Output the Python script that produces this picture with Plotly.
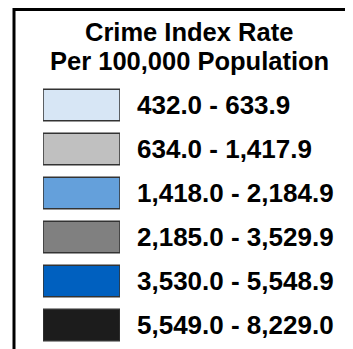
import plotly.graph_objects as go

RANGES = ['432.0 - 633.9', '634.0 - 1,417.9', '1,418.0 - 2,184.9',
          '2,185.0 - 3,529.9', '3,530.0 - 5,548.9', '5,549.0 - 8,229.0']
COLORS = ['#d7e6f5', '#c0c0c0', '#64a0db', '#808080', '#0060bf', '#1c1c1c']
SWATCH = [1, 1, 1, 1, 1, 1]
TITLE_LINES = ['Crime Index Rate', 'Per 100,000 Population']

# the page body adds an 8px margin, so the figure is 8px smaller
W, H = 345, 341
L, R, T, B = 35, 112, 75, 339   # plot area in figure pixels
FONT = 'Arial, Liberation Sans, sans-serif'


def px(x):
    return (x - L) / (R - L)


def py(y):
    return (B - y) / (B - T)


fig = go.Figure()
fig.add_trace(go.Bar(
    x=SWATCH, y=RANGES, orientation='h', width=0.72,
    marker=dict(color=COLORS, line=dict(color='#333333', width=1.5)),
    hoverinfo='skip', showlegend=False))

for i, line in enumerate(TITLE_LINES):
    fig.add_annotation(text='<b>' + line + '</b>', xref='paper', yref='paper',
                       x=px(181), y=py(24.5 + i * 29), xanchor='center', yanchor='middle',
                       showarrow=False, font=dict(family=FONT, size=25.5, color='black'))

fig.update_layout(
    width=W, height=H,
    margin=dict(l=L, r=W - R, t=T, b=H - B),
    paper_bgcolor='white', plot_bgcolor='white',
    xaxis=dict(visible=False, range=[0, 1], fixedrange=True),
    yaxis=dict(autorange='reversed', side='right', showgrid=False, showline=False,
               zeroline=False, ticks='', ticklabelstandoff=16,
               tickfont=dict(family=FONT, size=26, color='black', weight='bold')),
    shapes=[
        dict(type='line', xref='paper', yref='paper', x0=px(6), x1=px(W + 5),
             y0=py(1.5), y1=py(1.5), line=dict(color='black', width=3)),
        dict(type='line', xref='paper', yref='paper', x0=px(6), x1=px(6),
             y0=py(0), y1=py(H + 5), line=dict(color='black', width=3)),
    ],
)

fig.write_html('out.html', config={'displayModeBar': False})
